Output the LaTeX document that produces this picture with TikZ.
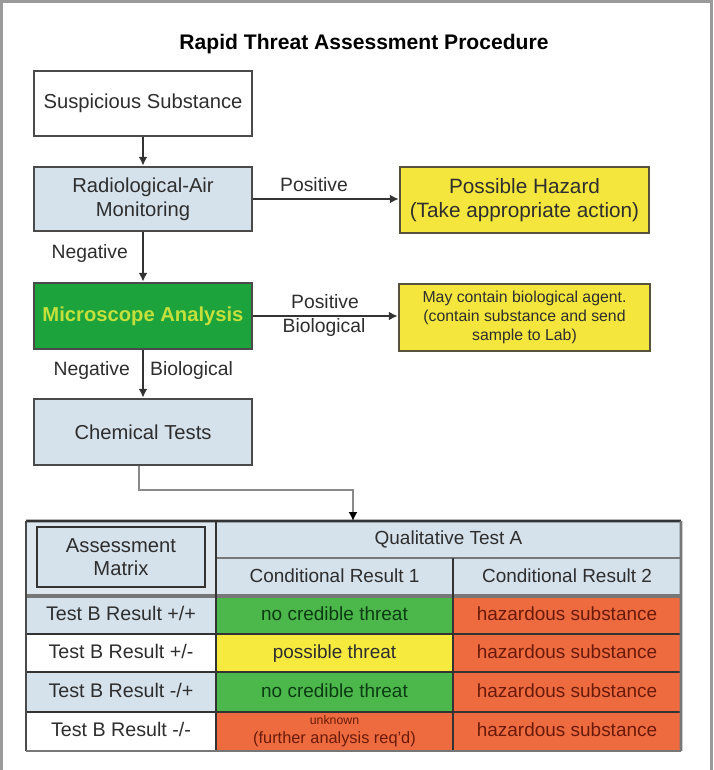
\documentclass[tikz,border=0pt]{standalone}
\usepackage{fontspec}
\setmainfont{Liberation Sans}
\usetikzlibrary{arrows.meta}
\definecolor{lblue}{HTML}{D5E1EB}
\definecolor{lblue2}{HTML}{DFE7EE}
\definecolor{bordergray}{HTML}{4A4A4A}
\definecolor{txtgray}{HTML}{2E2E2E}
\definecolor{ybox}{HTML}{F4E63C}
\definecolor{yborder}{HTML}{57523C}
\definecolor{gbox}{HTML}{1DA33C}
\definecolor{gtext}{HTML}{C3E03C}
\definecolor{tgreen}{HTML}{4CB84B}
\definecolor{tyellow}{HTML}{F6EA3F}
\definecolor{torange}{HTML}{EE6B3F}
\definecolor{otext}{HTML}{6A1A08}
\definecolor{gtxt}{HTML}{0B3B12}
\definecolor{framegray}{HTML}{9A9A9A}
\definecolor{conngray}{HTML}{8A8A8A}
\definecolor{tline}{HTML}{333333}
\definecolor{tband}{HTML}{777777}
\begin{document}
\begin{tikzpicture}[x=0.02cm,y=-0.02cm,
  every node/.style={text=txtgray},
  flowbox/.style={draw=bordergray, line width=1.5pt, align=center, inner sep=0pt,
    font=\fontsize{11.5}{13.7}\selectfont},
  notebox/.style={draw=yborder, line width=1.5pt, fill=ybox, align=center, inner sep=0pt},
  lbl/.style={font=\fontsize{11}{13}\selectfont, inner sep=1pt},
  flow/.style={draw=tline, line width=1.1pt, -{Latex[length=5pt,width=5pt]}},
  cell/.style={inner sep=0pt, outer sep=0pt, align=center, font=\fontsize{10.8}{12}\selectfont},
  onecell/.style={cell, text height=1.6ex, text depth=0.45ex},
  rowlbl/.style={onecell, font=\fontsize{11.2}{13}\selectfont},
  tl/.style={draw=tline, line width=1.5pt},
]
\useasboundingbox (0,0) rectangle (713,770);
\fill[white] (0,0) rectangle (713,770);
\draw[framegray, line width=1.7pt] (1.5,770) -- (1.5,1.5) -- (711.5,1.5) -- (711.5,770);

% title
\node[font=\bfseries\fontsize{12}{14}\selectfont, text=black] (title) at (364,44) {Rapid Threat Assessment Procedure};

% flow boxes
\node[flowbox, fill=white, minimum width=4.36cm, minimum height=1.3cm] (susp) at (143,103.5) {Suspicious Substance};
\node[flowbox, fill=lblue, minimum width=4.36cm, minimum height=1.28cm] (radio) at (143,199) {Radiological-Air\\Monitoring};
\node[notebox, minimum width=4.98cm, minimum height=1.32cm, font=\fontsize{11.8}{13.7}\selectfont] (hazard) at (524.5,200) {Possible Hazard\\(Take appropriate action)};
\node[flowbox, fill=gbox, minimum width=4.36cm, minimum height=1.32cm, text=gtext, font=\bfseries\fontsize{11.5}{13.7}\selectfont] (micro) at (143,316) {Microscope Analysis};
\node[notebox, minimum width=5.02cm, minimum height=1.34cm, font=\fontsize{9}{10.8}\selectfont] (bio) at (524.5,317.5) {May contain biological agent.\\(contain substance and send\\sample to Lab)};
\node[flowbox, fill=lblue, minimum width=4.36cm, minimum height=1.32cm] (chem) at (143,432) {Chemical Tests};

% arrows
\draw[flow] (susp.south) -- (radio.north);
\draw[flow] (radio.east) -- (radio.east -| hazard.west);
\draw[flow] (radio.south) -- (micro.north);
\draw[flow] (micro.east) -- (micro.east -| bio.west);
\draw[flow] (micro.south) -- (chem.north);

\node[lbl] (lpos1) at (314,185) {Positive};
\node[lbl, anchor=east] (lneg1) at (130,254) {Negative};
\node[lbl] (lpos2) at (325,302) {Positive};
\node[lbl] (lbio2) at (324,328) {Biological};
\node[lbl, anchor=east] (lneg2) at (132,370) {Negative};
\node[lbl, anchor=west] (lbio3) at (148,370) {Biological};

% table cells
\node[cell, fill=lblue2, minimum width=3.8cm, minimum height=1.5cm] (corner) at (121,558.5) {};
\node[cell, fill=lblue, draw=tline, line width=1.4pt, minimum width=3.36cm, minimum height=1.2cm, font=\fontsize{11.5}{13.2}\selectfont] (am) at (121,557) {Assessment\\Matrix};
\node[onecell, fill=lblue, minimum width=9.3cm, minimum height=0.74cm] (qa) at (448.5,539.5) {Qualitative Test A};
\node[onecell, fill=lblue, minimum width=4.74cm, minimum height=0.76cm] (cr1) at (334.5,577) {Conditional Result 1};
\node[onecell, fill=lblue, minimum width=4.56cm, minimum height=0.76cm] (cr2) at (567,577) {Conditional Result 2};

\node[rowlbl, fill=lblue, minimum width=3.8cm, minimum height=0.76cm] (r1) at (121,615) {Test B Result +/+};
\node[rowlbl, fill=white, minimum width=3.8cm, minimum height=0.76cm] (r2) at (121,653) {Test B Result +/-};
\node[rowlbl, fill=lblue, minimum width=3.8cm, minimum height=0.8cm] (r3) at (121,692) {Test B Result -/+};
\node[rowlbl, fill=white, minimum width=3.8cm, minimum height=0.78cm] (r4) at (121,731.5) {Test B Result -/-};

\node[onecell, fill=tgreen, text=gtxt, minimum width=4.74cm, minimum height=0.76cm] (a1) at (334.5,615) {no credible threat};
\node[onecell, fill=tyellow, text=txtgray, minimum width=4.74cm, minimum height=0.76cm] (a2) at (334.5,653) {possible threat};
\node[onecell, fill=tgreen, text=gtxt, minimum width=4.74cm, minimum height=0.8cm] (a3) at (334.5,692) {no credible threat};
\node[cell, fill=torange, text=otext, minimum width=4.74cm, minimum height=0.78cm] (a4) at (334.5,731.5) {{\fontsize{7}{7.5}\selectfont unknown}\\[-1pt]{\fontsize{9.3}{10}\selectfont (further analysis req'd)}};

\node[onecell, fill=torange, text=otext, minimum width=4.56cm, minimum height=0.76cm] (b1) at (567,615) {hazardous substance};
\node[onecell, fill=torange, text=otext, minimum width=4.56cm, minimum height=0.76cm] (b2) at (567,653) {hazardous substance};
\node[onecell, fill=torange, text=otext, minimum width=4.56cm, minimum height=0.8cm] (b3) at (567,692) {hazardous substance};
\node[onecell, fill=torange, text=otext, minimum width=4.56cm, minimum height=0.78cm] (b4) at (567,731.5) {hazardous substance};

% table lines
\draw[tl] (corner.north west) -- (qa.north east);
\draw[draw=tband, line width=1.5pt] (qa.south west) -- (qa.south east);
\draw[draw=tband, line width=2.2pt] (r1.north west) -- (b1.north east);
\draw[tl] (r2.north west) -- (b2.north east);
\draw[tl] (r3.north west) -- (b3.north east);
\draw[tl] (r4.north west) -- (b4.north east);
\draw[draw=tline, line width=1pt] (qa.north west) -- (a4.south west);
\draw[draw=tline, line width=1.1pt] (cr2.north west) -- (b4.south west);
\draw[draw=bordergray, line width=1.3pt] (corner.north west) -- (r4.south west);
\draw[draw=tband, line width=1.5pt] (r4.south west) -- (b4.south east);
\draw[draw=tband, line width=1.5pt] (qa.north east) -- (b4.south east);

% connector to table
\coordinate (jog) at (353,490);
\draw[draw=conngray, line width=1.7pt, -{Latex[length=5pt,width=5pt,color=black]}] ([xshift=-0.08cm]chem.south) |- (jog) -- (jog |- qa.north);
\end{tikzpicture}
\end{document}
